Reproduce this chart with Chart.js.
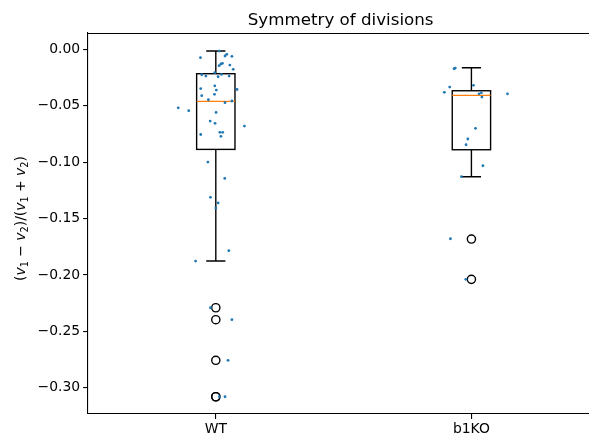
<!DOCTYPE html>
<html>
<head>
<meta charset="utf-8">
<script src="https://cdn.jsdelivr.net/npm/chart.js@4"></script>
<style>
    html, body { margin: 0; padding: 0; background: #ffffff; overflow: hidden; }
    #wrap { width: 589px; height: 440px; position: relative; }
</style>
</head>
<body>
<div id="wrap"><canvas id="chart" width="589" height="440"></canvas></div>
<script>
// categories and box positions
const categories = ["WT", "b1KO"];
const positions = [1, 2];

// box statistics
const whiskerLow = [-0.1877, -0.1129];
const q1 = [-0.0887, -0.0890];
const median = [-0.0461, -0.0408];
const q3 = [-0.0216, -0.0367];
const whiskerHigh = [-0.0015, -0.0163];
const wtOutliers = [-0.2291, -0.2397, -0.2757, -0.3080, -0.3080];
const koOutliers = [-0.1682, -0.2039];

// individual measurements, with their horizontal jitter (x position)
const wtValues = [-0.0074, -0.0015, -0.0044, -0.0059, -0.0062, -0.0124, -0.0130, -0.0145, -0.0139, -0.0177,
    -0.0207, -0.0225, -0.0237, -0.0243, -0.0222, -0.0237, -0.0323, -0.0348, -0.0361, -0.0356,
    -0.0411, -0.0399, -0.0447, -0.0458, -0.0473, -0.0518, -0.0544, -0.0559, -0.0636, -0.0656,
    -0.0680, -0.0736, -0.0736, -0.0755, -0.0771, -0.0999, -0.1144, -0.1312, -0.1362, -0.1407,
    -0.1785, -0.1877, -0.2291, -0.2397, -0.2757, -0.3080, -0.3080];
const wtJitter = [0.940, 1.013, 1.043, 1.036, 1.063, 1.026, 1.020, 1.013, 1.055, 1.068,
    0.996, 0.945, 0.961, 1.009, 1.022, 1.052, 0.996, 0.941, 1.002, 1.083,
    0.945, 0.995, 0.971, 1.063, 1.036, 0.853, 0.894, 1.001, 0.978, 0.997,
    1.112, 1.016, 1.027, 0.941, 1.020, 0.969, 1.035, 0.979, 1.009, 1.000,
    1.051, 0.921, 0.979, 1.063, 1.048, 1.014, 1.036];

const koValues = [-0.0172, -0.0166, -0.0334, -0.0319, -0.0381, -0.0394, -0.0385, -0.0423, -0.0394,
    -0.0700, -0.0795, -0.0846, -0.1032, -0.1129, -0.1679, -0.2039];
const koJitter = [1.932, 1.937, 1.915, 2.008, 1.894, 2.030, 2.039, 2.041, 2.141,
    2.016, 1.986, 1.979, 2.045, 1.961, 1.918, 1.978];

const yTicks = [0, -0.05, -0.10, -0.15, -0.20, -0.25, -0.30];

const boxWidth = 0.15;
const capWidth = 0.075;
const lw = 1.39;

function toPoints(xs, ys) {
    return ys.map((y, i) => ({ x: xs[i], y: y }));
}

const outlierPoints = [];
wtOutliers.forEach(v => outlierPoints.push({ x: positions[0], y: v }));
koOutliers.forEach(v => outlierPoints.push({ x: positions[1], y: v }));

const boxPlugin = {
    id: "boxes",
    beforeDatasetsDraw(chart) {
        const ctx = chart.ctx;
        const xs = chart.scales.x;
        const ys = chart.scales.y;
        ctx.save();
        ctx.lineWidth = lw;
        for (let i = 0; i < positions.length; i++) {
            const p = positions[i];
            const xl = xs.getPixelForValue(p - boxWidth / 2);
            const xr = xs.getPixelForValue(p + boxWidth / 2);
            const xc = xs.getPixelForValue(p);
            const cl = xs.getPixelForValue(p - capWidth / 2);
            const cr = xs.getPixelForValue(p + capWidth / 2);
            const yq1 = ys.getPixelForValue(q1[i]);
            const yq3 = ys.getPixelForValue(q3[i]);
            const ylo = ys.getPixelForValue(whiskerLow[i]);
            const yhi = ys.getPixelForValue(whiskerHigh[i]);
            const ymed = ys.getPixelForValue(median[i]);

            ctx.strokeStyle = "#000000";
            ctx.strokeRect(xl, yq3, xr - xl, yq1 - yq3);

            ctx.beginPath();
            ctx.moveTo(xc, yq1); ctx.lineTo(xc, ylo);
            ctx.moveTo(xc, yq3); ctx.lineTo(xc, yhi);
            ctx.moveTo(cl, ylo); ctx.lineTo(cr, ylo);
            ctx.moveTo(cl, yhi); ctx.lineTo(cr, yhi);
            ctx.stroke();

            ctx.strokeStyle = "#ff7f0e";
            ctx.beginPath();
            ctx.moveTo(xl, ymed); ctx.lineTo(xr, ymed);
            ctx.stroke();
        }
        ctx.restore();
    },
    afterDraw(chart) {
        const ctx = chart.ctx;
        const area = chart.chartArea;
        ctx.save();

        // top spine
        ctx.strokeStyle = "#000000";
        ctx.lineWidth = 1.1;
        ctx.beginPath();
        ctx.moveTo(area.left, area.top + 0.5);
        ctx.lineTo(area.right, area.top + 0.5);
        ctx.stroke();

        // title
        ctx.fillStyle = "#000000";
        ctx.font = "16.7px 'DejaVu Sans'";
        ctx.textAlign = "center";
        ctx.textBaseline = "alphabetic";
        const titleX = chart.scales.x.getPixelForValue(1.5) - 3;
        ctx.fillText("Symmetry of divisions", titleX, 25);

        // y label with italic v and subscripts
        const pieces = [
            ["(", "n"], ["v", "i"], ["1", "s"], [" \u2212 ", "n"], ["v", "i"], ["2", "s"],
            [")/(", "n"], ["v", "i"], ["1", "s"], [" + ", "n"], ["v", "i"], ["2", "s"], [")", "n"]
        ];
        const fonts = {
            n: "13.9px 'DejaVu Sans'",
            i: "italic 13.9px 'DejaVu Sans'",
            s: "9.7px 'DejaVu Sans'"
        };
        let total = 0;
        pieces.forEach(pc => {
            ctx.font = fonts[pc[1]];
            total += ctx.measureText(pc[0]).width;
        });
        const cy = (area.top + area.bottom) / 2 - 5;
        ctx.translate(25, cy);
        ctx.rotate(-Math.PI / 2);
        ctx.textAlign = "left";
        let px = -total / 2;
        pieces.forEach(pc => {
            ctx.font = fonts[pc[1]];
            const dy = pc[1] === "s" ? 3 : 0;
            ctx.fillText(pc[0], px, dy);
            px += ctx.measureText(pc[0]).width;
        });
        ctx.restore();
    }
};

Chart.defaults.font.family = "'DejaVu Sans'";
Chart.defaults.color = "#000000";

new Chart(document.getElementById("chart").getContext("2d"), {
    type: "scatter",
    data: {
        datasets: [
            {
                label: "WT",
                data: toPoints(wtJitter, wtValues),
                backgroundColor: "#1f77b4",
                borderWidth: 0,
                pointRadius: 1.4
            },
            {
                label: "b1KO",
                data: toPoints(koJitter, koValues),
                backgroundColor: "#1f77b4",
                borderWidth: 0,
                pointRadius: 1.4
            },
            {
                label: "outliers",
                data: outlierPoints,
                backgroundColor: "rgba(0,0,0,0)",
                borderColor: "#000000",
                borderWidth: 1.39,
                pointRadius: 4.1
            }
        ]
    },
    options: {
        responsive: false,
        animation: false,
        devicePixelRatio: 1,
        layout: { autoPadding: false, padding: { top: 33, right: 0, left: 0, bottom: 0 } },
        plugins: {
            legend: { display: false },
            tooltip: { enabled: false }
        },
        scales: {
            x: {
                type: "linear",
                min: 0.5,
                max: 2.46,
                afterFit: s => { s.height = 26; s.paddingLeft = 0; s.paddingRight = 0; },
                afterBuildTicks: s => { s.ticks = positions.map(v => ({ value: v })); },
                ticks: {
                    callback: v => categories[positions.indexOf(v)],
                    font: { size: 13.9 },
                    color: "#000000",
                    padding: 2,
                    maxRotation: 0
                },
                grid: { drawOnChartArea: false, tickLength: 4.9, color: "#000000", lineWidth: 1.1 },
                border: { color: "#000000", width: 1.1 }
            },
            y: {
                min: -0.3233,
                max: 0.0145,
                afterFit: s => { s.width = 88; s.paddingTop = 0; s.paddingBottom = 0; },
                afterBuildTicks: s => { s.ticks = yTicks.map(v => ({ value: v })); },
                ticks: {
                    callback: v => v.toFixed(2).replace("-", "\u2212"),
                    font: { size: 13.9 },
                    color: "#000000",
                    padding: 3
                },
                grid: { drawOnChartArea: false, tickLength: 4.9, color: "#000000", lineWidth: 1.1 },
                border: { color: "#000000", width: 1.1 }
            }
        }
    },
    plugins: [boxPlugin]
});
</script>
</body>
</html>
